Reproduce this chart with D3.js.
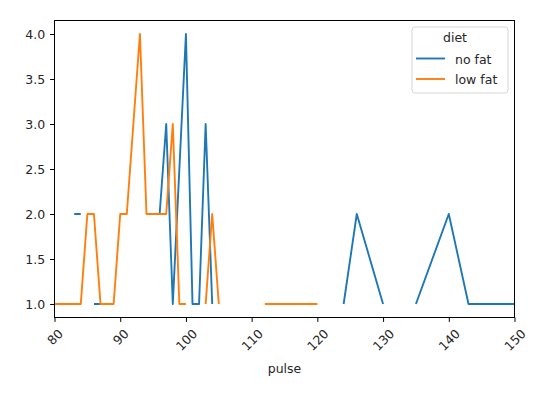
<!DOCTYPE html>
<html>
<head>
<meta charset="utf-8">
<script src="https://cdn.jsdelivr.net/npm/d3@7"></script>
<style>
  body { margin: 0; background: #fff; }
  text { font-family: "DejaVu Sans", sans-serif; font-size: 12.5px; fill: #262626; }
</style>
</head>
<body>
<div id="chart"></div>
<script>
// shared pulse index (union of both groups); null = no reading for that diet
var pulse   = [80, 83, 84, 85, 86, 87, 88, 89, 90, 91, 92, 93, 94, 95, 96, 97, 98, 99, 100,
               101, 102, 103, 104, 105, 108, 112, 114, 116, 118, 120, 124, 126, 130, 132, 135, 140, 143, 150];
var noFat   = [null, 2, 2, null, 1, 1, null, null, null, null, null, null, null, null, 2, 3, 1, 2.5, 4,
               1, 1, 3, 1, null, null, null, null, null, null, null, 1, 2, 1, null, 1, 2, 1, 1];
var lowFat  = [1, 1, 1, 2, 2, 1, 1, 1, 2, 2, 3, 4, 2, 2, 2, 2, 3, 1, 1,
               null, null, 1, 2, 1, null, 1, 1, 1, 1, 1, null, null, null, null, null, null, null, null];
var seriesNames = ["no fat", "low fat"];
var colors = ["#1f77b4", "#ff7f0e"];
var xTicks = [80, 90, 100, 110, 120, 130, 140, 150];
var yTicks = [1.0, 1.5, 2.0, 2.5, 3.0, 3.5, 4.0];

var W = 539, H = 397;
var margin = { top: 20.5, right: 24.5, bottom: 79.5, left: 54.5 },
    width = W - margin.left - margin.right,
    height = H - margin.top - margin.bottom;

var svg = d3.select("#chart")
  .append("svg")
    .attr("width", W)
    .attr("height", H);

var g = svg.append("g")
    .attr("transform", "translate(" + margin.left + "," + margin.top + ")");

var x = d3.scaleLinear().domain([80, 150]).range([0, width]);
var y = d3.scaleLinear().domain([0.85, 4.15]).range([height, 0]);

g.append("defs").append("clipPath").attr("id", "clip")
  .append("rect").attr("width", width).attr("height", height);

var line = d3.line()
    .defined(d => d[1] != null)
    .x(d => x(d[0]))
    .y(d => y(d[1]));

[noFat, lowFat].forEach((vals, i) => {
  g.append("path")
    .attr("clip-path", "url(#clip)")
    .attr("fill", "none")
    .attr("stroke", colors[i])
    .attr("stroke-width", 1.9)
    .attr("stroke-linejoin", "round")
    .attr("d", line(pulse.map((p, j) => [p, vals[j]])));
});

// y axis
var yAxis = g.append("g")
    .call(d3.axisLeft(y).tickValues(yTicks).tickFormat(d3.format(".1f")).tickSize(4.4).tickPadding(5));
yAxis.select(".domain").remove();
yAxis.selectAll("line").attr("stroke", "#000").attr("stroke-width", 1);
yAxis.selectAll("text").attr("fill", "#262626").style("font-size", "12.5px").style("font-family", "DejaVu Sans");

// x axis
var xAxis = g.append("g")
    .attr("transform", "translate(0," + height + ")")
    .call(d3.axisBottom(x).tickValues(xTicks).tickFormat(d3.format("d")).tickSize(4.4));
xAxis.select(".domain").remove();
xAxis.selectAll("line").attr("stroke", "#000").attr("stroke-width", 1);
xAxis.selectAll("text")
    .attr("fill", "#262626")
    .style("font-size", "12.5px")
    .style("font-family", "DejaVu Sans")
    .attr("dy", null)
    .attr("y", 0)
    .attr("text-anchor", "middle")
    .attr("dominant-baseline", "central")
    .each(function() {
      var w = this.getComputedTextLength();
      var bh = (w + 14.5) * Math.SQRT1_2;
      d3.select(this).attr("transform", "translate(0," + (8.8 + bh / 2) + ") rotate(-45)");
    });

// frame
g.append("rect")
    .attr("width", width)
    .attr("height", height)
    .attr("fill", "none")
    .attr("stroke", "#000")
    .attr("stroke-width", 1);

g.append("text")
    .attr("x", width / 2)
    .attr("y", 373 - margin.top)
    .attr("text-anchor", "middle")
    .text("pulse");

// legend
var lg = svg.append("g").attr("transform", "translate(412,27)");
lg.append("rect")
    .attr("width", 96)
    .attr("height", 66)
    .attr("rx", 3)
    .attr("fill", "#fff")
    .attr("fill-opacity", 0.8)
    .attr("stroke", "#d5d5d5")
    .attr("stroke-width", 1);
lg.append("text").attr("x", 43).attr("y", 14.5).attr("text-anchor", "middle").text("diet");
seriesNames.forEach((name, i) => {
  var yy = 31.5 + i * 20.5;
  lg.append("line")
    .attr("x1", 4).attr("x2", 33)
    .attr("y1", yy).attr("y2", yy)
    .attr("stroke", colors[i]).attr("stroke-width", 1.9);
  lg.append("text").attr("x", 43).attr("y", yy + 5).text(name);
});
</script>
</body>
</html>
